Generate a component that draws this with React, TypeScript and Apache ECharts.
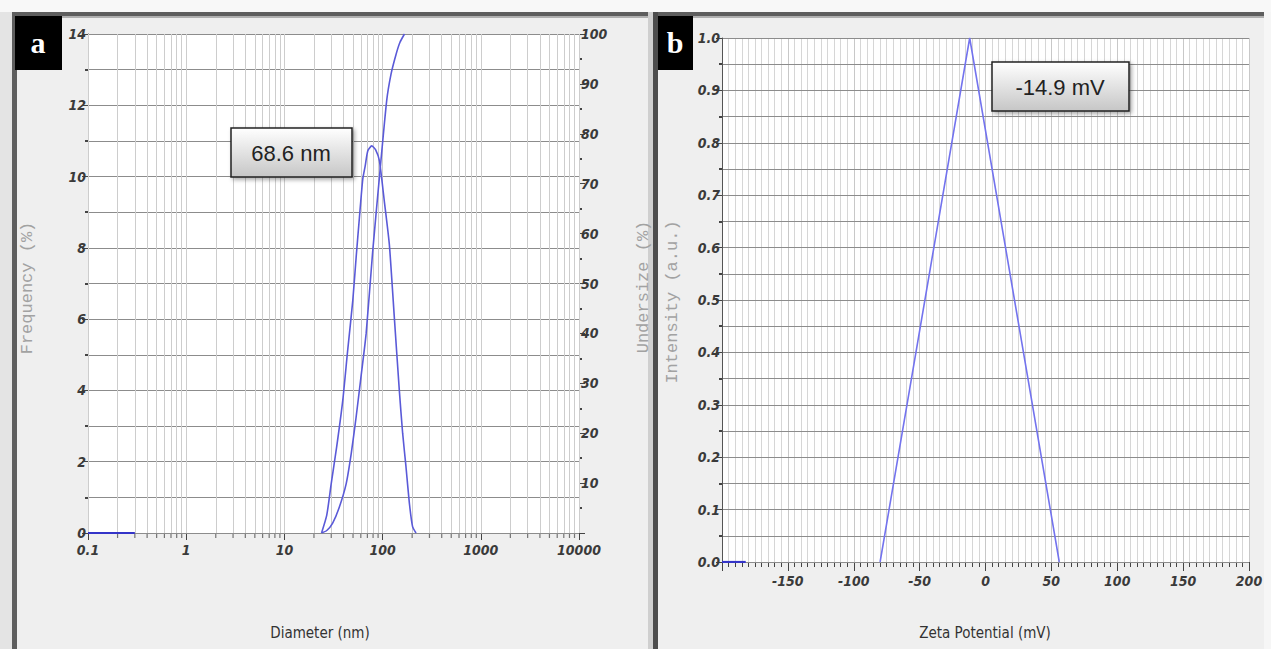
import React, { useEffect, useRef } from "react";
import * as echarts from "echarts";

// ---------- Panel a : size distribution (log diameter axis) ----------
const logDecades = [0.1, 1, 10, 100, 1000];
const logMultipliers = [2, 3, 4, 5, 6, 7, 8, 9];

// Frequency (%) vs diameter (nm)
const frequencyData: number[][] = [
  [23.9, 0], [27, 0.5], [30, 1.39], [34, 2.4], [39.3, 3.72], [44, 5.1], [49.7, 6.52],
  [54, 7.8], [58.1, 8.86], [62.8, 9.93], [66.5, 10.3], [70.6, 10.72], [77.5, 10.86],
  [85, 10.75], [92.8, 10.44], [104, 9.32], [117, 8.11], [132, 6.0], [148, 4.0],
  [160, 2.8], [173, 1.86], [188, 0.8], [202, 0.18], [219, 0],
];
const frequencyBaseline: number[][] = [[0.1, 0], [0.3, 0]];

// Undersize (%) cumulative vs diameter (nm)
const undersizeData: number[][] = [
  [23.9, 0], [27, 0.5], [31, 2], [36, 5], [42.6, 9.9], [48, 16], [53.8, 23.3],
  [60, 31], [68, 40], [79.4, 56.6], [92.8, 71.3], [110, 86.6], [122, 92],
  [137, 95.9], [150, 98.3], [167, 100],
];

// ---------- Panel b : zeta potential ----------
const zetaData: number[][] = [[-80, 0], [-12, 1], [56, 0]];
const zetaBaseline: number[][] = [[-200, 0], [-182, 0]];

const sizeLabel = "68.6 nm";
const zetaLabel = "-14.9 mV";

const tickFont = {
  fontFamily: "'Liberation Sans Narrow', 'Arial Narrow', 'DejaVu Sans Condensed', sans-serif",
  fontStyle: "italic" as const,
  fontWeight: "bold" as const,
  fontSize: 14,
  color: "#3a3a3a",
};

const monoTitle = "17px 'Liberation Mono', 'DejaVu Sans Mono', monospace";
const narrowTitle = "15px 'Liberation Sans Narrow', 'Arial Narrow', 'DejaVu Sans Condensed', sans-serif";

export default function App() {
  const ref = useRef<HTMLDivElement>(null);

  useEffect(() => {
    if (!ref.current) return;
    const chart = echarts.init(ref.current, undefined, { renderer: "svg" });

    const minorLog: number[] = [];
    logDecades.forEach((d) => logMultipliers.forEach((m) => minorLog.push(d * m)));
    const allLogLines = [...minorLog, ...logDecades, 10000];

    const boxFill = new echarts.graphic.LinearGradient(0, 0, 0, 1, [
      { offset: 0, color: "#ffffff" },
      { offset: 1, color: "#c6c6c6" },
    ]);

    const txt = (
      text: string, x: number, y: number, font: string, fill: string, rotation = 0, z = 10
    ) => ({
      type: "text", x, y, rotation, z, silent: true,
      style: {
        text, font, fill,
        align: "center", verticalAlign: "middle",
        textAlign: "center", textVerticalAlign: "middle",
      },
    });

    const option: any = {
      animation: false,
      backgroundColor: "#efefef",
      grid: [
        { left: 88, top: 34, width: 491, height: 499, show: true, backgroundColor: "#ffffff", borderWidth: 0 },
        { left: 722, top: 38, width: 527, height: 524, show: true, backgroundColor: "#ffffff", borderWidth: 0 },
      ],
      xAxis: [
        {
          type: "log", logBase: 10, min: 0.1, max: 10000, splitNumber: 5, gridIndex: 0,
          axisLine: { show: true, onZero: false, lineStyle: { color: "#777", type: "dotted" } },
          axisTick: { show: true, length: 7, lineStyle: { color: "#444" } },
          axisLabel: {
            ...tickFont, margin: 10,
            formatter: (v: number) => String(Number(v.toPrecision(6))),
          },
          splitLine: { show: false },
        },
        {
          type: "value", min: -200, max: 200, interval: 50, gridIndex: 1,
          axisLine: { show: true, onZero: false, lineStyle: { color: "#555" } },
          axisTick: { show: true, length: 9, lineStyle: { color: "#444" } },
          minorTick: { show: true, splitNumber: 10, length: 5, lineStyle: { color: "#444" } },
          splitLine: { show: true, lineStyle: { color: "#c8c8c8" } },
          minorSplitLine: { show: true, lineStyle: { color: "#d6d6d6" } },
          axisLabel: {
            ...tickFont, margin: 12,
            formatter: (v: number) => (v === -200 ? "" : String(v)),
          },
        },
      ],
      yAxis: [
        {
          type: "value", min: 0, max: 14, interval: 2, gridIndex: 0, position: "left", z: 3,
          axisLine: { show: true, onZero: false, lineStyle: { color: "#555" } },
          axisTick: { show: true, length: 6, lineStyle: { color: "#444" } },
          minorTick: { show: true, splitNumber: 2, length: 3, lineStyle: { color: "#444", width: 2 } },
          splitLine: { show: true, lineStyle: { color: "#8c8c8c" } },
          minorSplitLine: { show: true, lineStyle: { color: "#8c8c8c" } },
          axisLabel: { ...tickFont, margin: 2 },
        },
        {
          type: "value", min: 0, max: 100, interval: 10, gridIndex: 0, position: "right", z: 3,
          axisLine: { show: false, onZero: false },
          axisTick: { show: true, length: 6, lineStyle: { color: "#444" } },
          minorTick: { show: true, splitNumber: 2, length: 3, lineStyle: { color: "#444", width: 2 } },
          splitLine: { show: false },
          axisLabel: { ...tickFont, margin: 2, formatter: (v: number) => (v === 0 ? "" : String(v)) },
        },
        {
          type: "value", min: 0, max: 1, interval: 0.1, gridIndex: 1, position: "left", z: 1,
          axisLine: { show: true, onZero: false, lineStyle: { color: "#555" } },
          axisTick: { show: true, length: 6, lineStyle: { color: "#444" } },
          minorTick: { show: true, splitNumber: 2, length: 3, lineStyle: { color: "#444", width: 2 } },
          splitLine: { show: true, lineStyle: { color: "#8c8c8c" } },
          minorSplitLine: { show: true, lineStyle: { color: "#8c8c8c" } },
          axisLabel: { ...tickFont, margin: 2, formatter: (v: number) => v.toFixed(1) },
        },
      ],
      series: [
        {
          name: "logGrid", type: "scatter", xAxisIndex: 0, yAxisIndex: 0, z: 1, silent: true, clip: false,
          symbol: "rect", symbolSize: [1.2, 4], symbolOffset: [0, 3],
          itemStyle: { color: "#555" },
          data: minorLog.map((v) => [v, 0]),
          markLine: {
            silent: true, symbol: "none", label: { show: false }, animation: false,
            lineStyle: { color: "#cdcdcd", type: "solid", width: 1 },
            emphasis: { disabled: true },
            data: allLogLines.map((v) => ({ xAxis: v })),
          },
        },
        {
          name: "Frequency", type: "line", xAxisIndex: 0, yAxisIndex: 0, z: 5,
          showSymbol: false, smooth: 0.2, data: frequencyData,
          lineStyle: { color: "#5a5ad8", width: 1.6 },
        },
        {
          name: "FrequencyBase", type: "line", xAxisIndex: 0, yAxisIndex: 0, z: 5,
          showSymbol: false, data: frequencyBaseline,
          lineStyle: { color: "#3434c8", width: 2.2 },
        },
        {
          name: "Undersize", type: "line", xAxisIndex: 0, yAxisIndex: 1, z: 5,
          showSymbol: false, smooth: 0.2, data: undersizeData,
          lineStyle: { color: "#5a5ad8", width: 1.6 },
        },
        {
          name: "Zeta", type: "line", xAxisIndex: 1, yAxisIndex: 2, z: 5,
          showSymbol: false, data: zetaData,
          lineStyle: { color: "#7373ee", width: 1.6 },
        },
        {
          name: "ZetaBase", type: "line", xAxisIndex: 1, yAxisIndex: 2, z: 5,
          showSymbol: false, data: zetaBaseline,
          lineStyle: { color: "#3434c8", width: 2.2 },
        },
      ],
      graphic: [
        { type: "rect", silent: true, z: 0, shape: { x: 0, y: 0, width: 1271, height: 12 }, style: { fill: "#f8f8f8" } },
        { type: "rect", silent: true, z: 0, shape: { x: 0, y: 12, width: 12, height: 637 }, style: { fill: "#e4e4e4" } },
        { type: "rect", silent: true, z: 0, shape: { x: 12, y: 12, width: 1252, height: 4 }, style: { fill: "#5e5e5e" } },
        { type: "rect", silent: true, z: 0, shape: { x: 12, y: 16, width: 1252, height: 2 }, style: { fill: "#b0b0b0" } },
        { type: "rect", silent: true, z: 0, shape: { x: 12, y: 12, width: 5, height: 637 }, style: { fill: "#5e5e5e" } },
        { type: "rect", silent: true, z: 0, shape: { x: 648, y: 12, width: 5, height: 637 }, style: { fill: "#cfcfcf" } },
        { type: "rect", silent: true, z: 0, shape: { x: 653, y: 12, width: 5, height: 637 }, style: { fill: "#4c4c4c" } },
        { type: "rect", silent: true, z: 0, shape: { x: 1264, y: 12, width: 7, height: 637 }, style: { fill: "#f6f6f6" } },
        // panel letters
        { type: "rect", silent: true, z: 10, shape: { x: 15, y: 16, width: 47, height: 54 }, style: { fill: "#000" } },
        txt("a", 38, 42, "bold 30px 'Liberation Serif', serif", "#ffffff"),
        { type: "rect", silent: true, z: 10, shape: { x: 658, y: 16, width: 35, height: 54 }, style: { fill: "#000" } },
        txt("b", 675, 42, "bold 30px 'Liberation Serif', serif", "#ffffff"),
        // axis titles
        txt("Frequency (%)", 27, 288, monoTitle, "#a2a2a2", Math.PI / 2),
        txt("Undersize (%)", 643, 287, monoTitle, "#a2a2a2", Math.PI / 2),
        txt("Intensity (a.u.)", 672, 302, monoTitle, "#a2a2a2", Math.PI / 2),
        txt("Diameter (nm)", 320, 633, narrowTitle, "#333333"),
        txt("Zeta Potential (mV)", 985, 633, narrowTitle, "#333333"),
        // annotation boxes
        {
          type: "rect", silent: true, z: 20,
          shape: { x: 231, y: 128, width: 121, height: 49 },
          style: {
            fill: boxFill, stroke: "#222", lineWidth: 1.5,
            shadowBlur: 4, shadowColor: "rgba(0,0,0,0.35)", shadowOffsetX: 2, shadowOffsetY: 2,
          },
        },
        txt(sizeLabel, 291, 153, "22px 'Liberation Sans', 'Open Sans', sans-serif", "#222222", 0, 21),
        {
          type: "rect", silent: true, z: 20,
          shape: { x: 992, y: 62, width: 137, height: 49 },
          style: {
            fill: boxFill, stroke: "#222", lineWidth: 1.5,
            shadowBlur: 4, shadowColor: "rgba(0,0,0,0.35)", shadowOffsetX: 2, shadowOffsetY: 2,
          },
        },
        txt(zetaLabel, 1060, 87, "22px 'Liberation Sans', 'Open Sans', sans-serif", "#222222", 0, 21),
      ],
    };

    chart.setOption(option);
    return () => chart.dispose();
  }, []);

  return (
    <div
      ref={ref}
      style={{ position: "absolute", left: 0, top: 0, width: 1271, height: 649 }}
    />
  );
}
